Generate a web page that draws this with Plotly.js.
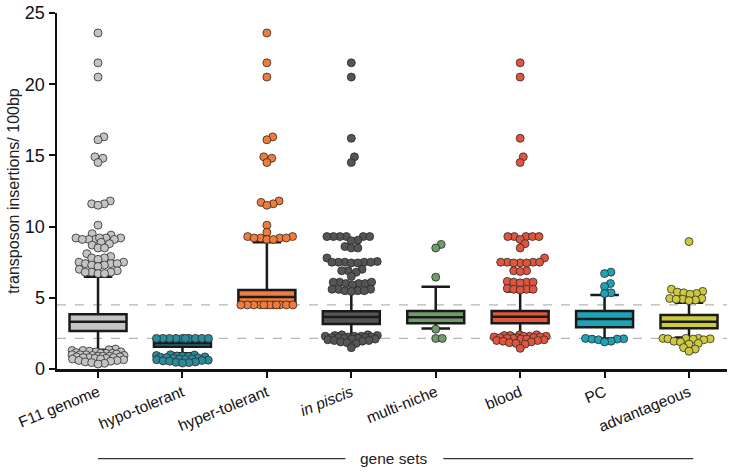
<!DOCTYPE html>
<html>
<head>
<meta charset="utf-8">
<script src="https://cdn.plot.ly/plotly-3.0.1.min.js"></script>
<style>html,body{margin:0;padding:0;background:#fff;}#chart{width:737px;height:473px;}</style>
</head>
<body>
<div id="chart"></div>
<script>
// ---- data ----
const categories = ['F11 genome','hypo-tolerant','hyper-tolerant','<i>in piscis</i>','multi-niche','blood','PC','advantageous'];
const colors = ['#c4c4c4','#2b8b9b','#ef7c3a','#555555','#6f9a6a','#e0553d','#1ca3b5','#cdcb3d'];
const q1 =           [2.67, 1.57, 4.66, 3.16, 3.21, 3.21, 2.93, 2.86];
const median =       [3.32, 1.80, 5.06, 3.65, 3.63, 3.67, 3.51, 3.32];
const q3 =           [3.84, 2.04, 5.55, 4.05, 4.07, 4.07, 4.07, 3.79];
const lowerWhisker = [1.35, 1.10, 4.55, 2.30, 2.85, 2.40, 2.15, 2.22];
const upperWhisker = [6.48, 2.10, 8.90, 5.40, 5.78, 5.45, 5.20, 4.66];
const thresholds = [2.15, 4.5];

const f11Points = [23.6,21.5,20.5,16.3,16.1,14.9,14.8,14.5,11.8,11.6,11.6,11.5,10.1,9.5,9.4,
  9.2,9.2,9.2,9.1,9.1,9.1,9.2,9.1,8.9,8.8,8.7,8.5,8.5,8.1,7.9,7.8,7.8,7.7,
  7.5,7.5,7.4,7.4,7.3,7.3,7.4,7.2,7.0,6.9,6.8,6.8,6.8,6.7,6.7,
  1.4,1.35,1.3,1.3,1.25,1.2,1.2,1.15,1.1,1.1,1.1,1.05,1.0,1.0,1.0,0.95,0.95,0.9,0.9,0.9,
  0.85,0.85,0.8,0.8,0.8,0.75,0.75,0.7,0.7,0.65,0.6,0.6,0.55,0.5,0.45,0.4,0.35];
const hypoPoints = [2.15,2.15,2.15,2.15,2.15,2.15,2.15,2.15,2.15,2.15,
  1.0,0.98,0.95,0.92,0.9,0.88,0.85,0.82,0.8,0.78,0.75,0.72,0.7,0.68,0.65,0.62,0.6,0.57,0.55,0.5,0.47,0.45,0.42];
const hyperPoints = [23.6,21.5,20.5,16.3,16.1,14.9,14.8,14.5,11.8,11.7,11.6,11.5,10.1,9.6,
  9.3,9.3,9.2,9.2,9.2,9.1,9.1,9.2,
  4.5,4.5,4.5,4.5,4.5,4.5,4.5,4.5,4.5,4.5,4.5,4.5];
const piscisPoints = [21.5,20.5,16.2,14.9,14.5,
  9.3,9.3,9.3,9.3,9.3,9.3,9.05,9.0,8.6,8.5,8.5,7.8,
  7.55,7.5,7.5,7.5,7.45,7.45,7.5,7.5,7.0,6.9,6.9,6.8,6.5,
  6.1,6.1,6.0,6.0,6.0,5.9,6.1,5.6,5.6,5.5,5.5,5.45,5.6,5.5,
  2.4,2.4,2.35,2.35,2.3,2.3,2.3,2.25,2.25,2.2,2.2,2.2,2.15,2.15,2.1,2.1,2.05,2.0,2.0,1.95,1.9,1.85,1.8,1.5];
const multiPoints = [8.75,8.5,6.45,2.8,2.15,2.15];
const bloodPoints = [21.5,20.5,16.2,14.9,14.5,
  9.3,9.3,9.3,9.3,9.3,9.1,8.8,8.5,7.8,7.5,7.5,7.45,7.45,7.5,7.5,7.45,6.9,6.9,6.85,
  6.15,6.1,6.1,6.05,6.1,5.65,5.6,5.6,5.55,5.6,
  2.4,2.4,2.35,2.35,2.3,2.3,2.3,2.25,2.25,2.2,2.2,2.2,2.15,2.15,2.1,2.1,2.05,2.0,2.0,1.95,1.9,1.85,1.8,1.75,1.45];
const pcPoints = [6.8,6.7,6.0,5.8,5.35,5.3,2.15,2.12,2.1,2.1,2.05,1.95,1.9];
const advPoints = [8.95,5.6,5.45,5.4,5.35,5.3,5.25,4.95,4.95,4.9,4.9,4.85,4.8,
  2.15,2.15,2.15,2.12,2.12,2.1,2.05,1.95,1.9,1.8,1.75,1.5,1.4,1.25];
const groupPoints = [f11Points,hypoPoints,hyperPoints,piscisPoints,multiPoints,bloodPoints,pcPoints,advPoints];

// ---- layout geometry ----
const W = 737, H = 473;
const margin = {l:57, r:10, t:13, b:104};
const xRange = [-0.486, 7.45];
const yRange = [0, 25];
const pxX = (W - margin.l - margin.r) / (xRange[1] - xRange[0]);
const pxY = (H - margin.t - margin.b) / (yRange[1] - yRange[0]);

// constrained beeswarm in pixel space: no overlap when it fits inside maxHalf,
// otherwise the least-overlapping position inside the band
function swarm(values, center, d, maxHalf) {
  const order = values.map((v,i)=>i).sort((a,b)=>values[a]-values[b]);
  const placed = [];
  const off = new Array(values.length);
  const minDist = (c, y) => placed.reduce((m,p)=>Math.min(m, Math.hypot(p.x-c, p.y-y)), Infinity);
  for (const i of order) {
    const y = values[i]*pxY;
    const cands = [0];
    for (const p of placed) {
      const dy = Math.abs(p.y - y);
      if (dy < d) { const dx = Math.sqrt(d*d - dy*dy); cands.push(p.x+dx, p.x-dx); }
    }
    cands.sort((a,b)=>Math.abs(a)-Math.abs(b));
    let best = null;
    for (const c of cands) {
      if (Math.abs(c) > maxHalf + 1e-6) break;
      if (minDist(c, y) >= d - 1e-6) { best = c; break; }
    }
    if (best === null) {
      let bestScore = -1;
      for (let c = 0; c <= maxHalf; c += 0.5) {
        for (const s of [c, -c]) {
          const sc = minDist(s, y);
          if (sc > bestScore + 1e-6) { bestScore = sc; best = s; }
        }
      }
    }
    placed.push({x:best, y:y});
    off[i] = best;
  }
  return off.map(o => center + o/pxX);
}

const traces = [];
categories.forEach((c,i)=>{
  traces.push({
    type:'box', x:[i], q1:[q1[i]], median:[median[i]], q3:[q3[i]],
    lowerfence:[lowerWhisker[i]], upperfence:[upperWhisker[i]],
    width:0.675, whiskerwidth:0.5, boxpoints:false,
    fillcolor:colors[i], line:{color:'#1a1a1a', width:2.5},
    hoverinfo:'skip', showlegend:false
  });
});
categories.forEach((c,i)=>{
  const vals = groupPoints[i];
  traces.push({
    type:'scatter', mode:'markers', x:swarm(vals, i, 6.5, 26), y:vals,
    marker:{size:8, color:colors[i], line:{color:'#2a2a2a', width:0.8}},
    hoverinfo:'y', showlegend:false
  });
});

const font = 'Liberation Sans, Arial, sans-serif';
const shapes = thresholds.map(t=>({
  type:'line', xref:'paper', x0:0, x1:1, yref:'y', y0:t, y1:t, layer:'below',
  line:{color:'#b5b5b5', width:1.2, dash:'dash'}
}));
const geneY = -0.252;
shapes.push({type:'line', xref:'x', x0:0, x1:2.93, yref:'paper', y0:geneY, y1:geneY, line:{color:'#333', width:1.2}});
shapes.push({type:'line', xref:'x', x0:4.09, x1:7.05, yref:'paper', y0:geneY, y1:geneY, line:{color:'#333', width:1.2}});

const layout = {
  width:W, height:H, margin:margin,
  paper_bgcolor:'#fff', plot_bgcolor:'#fff',
  font:{family:font, color:'#111'},
  showlegend:false,
  xaxis:{
    range:xRange, tickmode:'array', tickvals:categories.map((c,i)=>i), ticktext:categories,
    tickangle:-22, tickfont:{size:15.5, color:'#111'},
    showgrid:false, zeroline:false, showline:true, linecolor:'#111', linewidth:2.5,
    ticks:'outside', ticklen:6, tickwidth:2, tickcolor:'#111'
  },
  yaxis:{
    range:yRange, tickvals:[0,5,10,15,20,25], tickfont:{size:18, color:'#111'},
    showgrid:false, zeroline:false, showline:true, linecolor:'#111', linewidth:2.5,
    ticks:'outside', ticklen:6, tickwidth:2, tickcolor:'#111',
    title:{text:'transposon insertions/ 100bp', font:{size:16, color:'#222'}, standoff:2}
  },
  shapes:shapes,
  annotations:[{
    text:'gene sets', xref:'x', x:3.5, yref:'paper', y:geneY, showarrow:false,
    font:{size:15.5, color:'#222'}, bgcolor:'#fff', xanchor:'center', yanchor:'middle'
  }]
};

Plotly.newPlot('chart', traces, layout, {displayModeBar:false, staticPlot:true});
</script>
</body>
</html>
